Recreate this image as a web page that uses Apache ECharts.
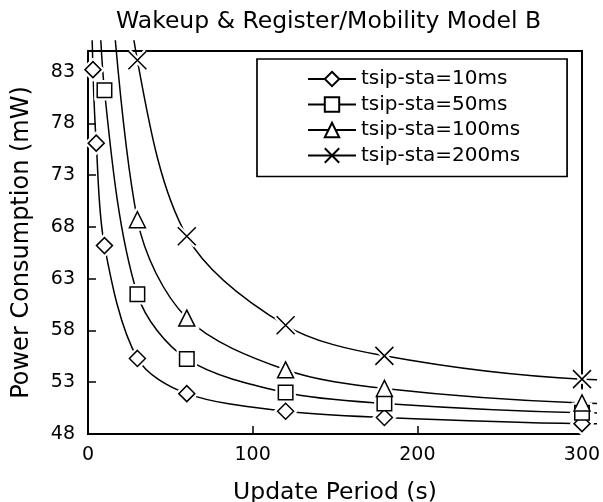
<!DOCTYPE html>
<html><head><meta charset="utf-8">
<script src="https://cdn.jsdelivr.net/npm/echarts@6/dist/echarts.min.js"></script>
<style>html,body{margin:0;padding:0;background:#fff}#c{width:603px;height:502px}</style>
</head><body><div id="c"></div>
<script>
// ---- data (points off the top / right of the frame are estimates) ----
const updatePeriods = [1, 3, 5, 10, 30, 60, 120, 180, 300, 600];
const power10ms  = [97, 83.2, 76.1, 66.2, 55.3, 51.9, 50.2, 49.6, 49.0, 48.6];
const power50ms  = [null, null, 100, 81.2, 61.5, 55.25, 52.0, 50.95, 50.05, 49.4];
const power100ms = [null, null, null, 100, 68.7, 59.2, 54.2, 52.4, 51.0, 50.0];
const power200ms = [null, null, null, 110, 84.1, 67.1, 58.5, 55.55, 53.3, 52.4];
const seriesNames = ['tsip-sta=10ms', 'tsip-sta=50ms', 'tsip-sta=100ms', 'tsip-sta=200ms'];
const xTickValues = [0, 100, 200, 300];
const yTickValues = [48, 53, 58, 63, 68, 73, 78, 83];

const FONT = 'DejaVu Sans';
const W = 603, H = 502;
const G = {left: 88, right: 21, top: 51, bottom: 68};   // framed plot area
const over = {top: 10, right: 13};                        // lines may run a little past the frame
const xMin = xTickValues[0], xMax = xTickValues[xTickValues.length - 1];
const yMin = yTickValues[0], yMax = 85;
const pxX = (xMax - xMin) / (W - G.left - G.right);
const pxY = (yMax - yMin) / (H - G.top - G.bottom);

const allSeries = [power10ms, power50ms, power100ms, power200ms];
const symbols = ['diamond', 'rect', 'triangle', 'path://M0,0L10,10M10,0L0,10'];
const sizes = [16, 14.5, 16, 18];

function pairs(vals) {
  const out = [];
  vals.forEach((v, i) => { if (v !== null) out.push([updatePeriods[i], v]); });
  return out;
}

const lineSeries = allSeries.map((vals, i) => ({
  type: 'line', name: seriesNames[i],
  xAxisIndex: 1, yAxisIndex: 1,
  data: pairs(vals),
  smooth: 0.32,
  symbol: symbols[i], symbolSize: sizes[i], showSymbol: false,
  clip: true,
  lineStyle: {color: '#000', width: 1.5},
  itemStyle: {color: '#fff', borderColor: '#000', borderWidth: 1.5},
  emphasis: {disabled: true},
  z: 2
}));
// white halo under each marker: the line stops short of its marker, as in the reference
const haloSeries = allSeries.map((vals, i) => ({
  type: 'scatter', name: 'halo' + i,
  xAxisIndex: 1, yAxisIndex: 1,
  data: pairs(vals),
  symbol: symbols[i], symbolSize: sizes[i],
  clip: true, silent: true,
  itemStyle: {color: '#fff', borderColor: '#fff', borderWidth: 6, opacity: 1},
  emphasis: {disabled: true},
  z: 3
}));
const markerSeries = allSeries.map((vals, i) => ({
  type: 'scatter', name: 'marker' + i,
  xAxisIndex: 1, yAxisIndex: 1,
  data: pairs(vals),
  symbol: symbols[i], symbolSize: sizes[i],
  clip: true, silent: true,
  itemStyle: {color: '#fff', borderColor: '#000', borderWidth: 1.5, opacity: 1},
  emphasis: {disabled: true},
  z: 4
}));

const chart = echarts.init(document.getElementById('c'), null, {renderer: 'canvas'});
const option = {
  animation: false,
  backgroundColor: '#fff',
  title: {
    text: 'Wakeup & Register/Mobility Model B',
    left: 116, top: 10, padding: 0,
    textStyle: {fontFamily: FONT, fontSize: 23.5, fontWeight: 'normal', color: '#000', lineHeight: 24}
  },
  legend: {
    orient: 'vertical', left: 257, top: 59,
    padding: [10, 47, 11, 50],
    itemWidth: 48, itemHeight: 18, itemGap: 5.5,
    borderColor: '#000', borderWidth: 1.7,
    selectedMode: false,
    data: seriesNames,
    textStyle: {fontFamily: FONT, fontSize: 20, color: '#000', lineHeight: 20}
  },
  grid: [
    Object.assign({show: true, borderColor: '#000', borderWidth: 2, backgroundColor: 'transparent', outerBoundsMode: 'none'}, G),
    {left: G.left, right: G.right - over.right, top: G.top - over.top, bottom: G.bottom, show: false, outerBoundsMode: 'none'}
  ],
  xAxis: [
    {
      gridIndex: 0, type: 'value', min: xMin, max: xMax, interval: 100,
      name: 'Update Period (s)', nameLocation: 'middle', nameGap: 47,
      nameTextStyle: {fontFamily: FONT, fontSize: 23.5, color: '#000'},
      axisLine: {onZero: false, lineStyle: {color: '#000', width: 2}},
      axisTick: {inside: true, length: 8, lineStyle: {color: '#000', width: 1.5}},
      axisLabel: {margin: 12, fontFamily: FONT, fontSize: 19, color: '#000'},
      splitLine: {show: false}
    },
    {gridIndex: 1, type: 'value', min: xMin, max: xMax + over.right * pxX, show: false, splitLine: {show: false}}
  ],
  yAxis: [
    {
      gridIndex: 0, type: 'value', min: yMin, max: yMax, interval: 5,
      name: 'Power Consumption (mW)', nameLocation: 'middle', nameGap: 54,
      nameTextStyle: {fontFamily: FONT, fontSize: 24, color: '#000'},
      axisLine: {onZero: false, lineStyle: {color: '#000', width: 2}},
      axisTick: {inside: true, length: 8, lineStyle: {color: '#000', width: 1.5}},
      axisLabel: {
        margin: 13, fontFamily: FONT, fontSize: 19, color: '#000',
        formatter: v => (yTickValues.indexOf(Math.round(v)) >= 0 && Math.abs(v - Math.round(v)) < 1e-6) ? String(Math.round(v)) : ''
      },
      splitLine: {show: false}
    },
    {gridIndex: 1, type: 'value', min: yMin, max: yMax + over.top * pxY, show: false, splitLine: {show: false}}
  ],
  series: lineSeries.concat(haloSeries, markerSeries)
};
chart.setOption(option);
</script></body></html>
